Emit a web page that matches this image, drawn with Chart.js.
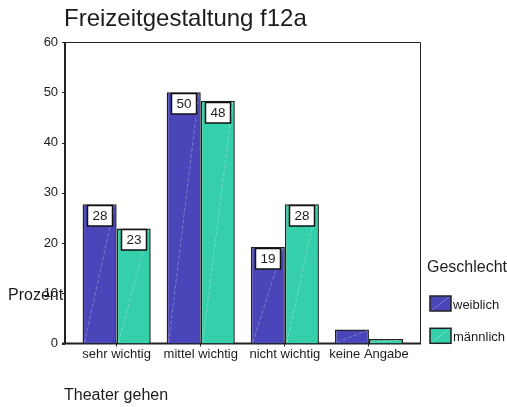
<!DOCTYPE html>
<html>
<head>
<meta charset="utf-8">
<script src="https://cdn.jsdelivr.net/npm/chart.js@4.4.1/dist/chart.umd.min.js"></script>
<style>
  body { margin: 0; background: #fff; }
</style>
</head>
<body>
<canvas id="freizeitChart" width="507" height="407"></canvas>
<script>
var categories = ["sehr wichtig", "mittel wichtig", "nicht wichtig", "keine Angabe"];
var weiblich = [27.7, 50.0, 19.2, 2.8];
var maennlich = [22.9, 48.3, 27.7, 0.9];
var yTicks = [0, 10, 20, 30, 40, 50, 60];

var FONT = "'Liberation Sans', Arial, sans-serif";
var INK = "#1c1c1c";

Chart.defaults.font.family = FONT;
Chart.defaults.color = INK;

// frame round the plot, y axis line and its tick marks
var framePlugin = {
  id: "frame",
  beforeDatasetsDraw: function (chart) {
    var ctx = chart.ctx;
    var a = chart.chartArea;
    var yScale = chart.scales.y;
    var left = a.left - 9.6;
    var right = a.right + 9;
    ctx.save();
    ctx.strokeStyle = "#222";
    ctx.lineWidth = 1;
    ctx.beginPath();
    ctx.moveTo(left - 3, a.top + 0.5);
    ctx.lineTo(right + 0.5, a.top + 0.5);
    ctx.lineTo(right + 0.5, a.bottom);
    ctx.stroke();
    ctx.lineWidth = 2;
    ctx.beginPath();
    ctx.moveTo(left, a.top);
    ctx.lineTo(left, a.bottom);
    ctx.moveTo(left - 3, a.bottom);
    ctx.lineTo(right + 1, a.bottom);
    ctx.stroke();
    ctx.lineWidth = 1;
    ctx.beginPath();
    yTicks.forEach(function (t) {
      var py = Math.round(yScale.getPixelForValue(t)) + 0.5;
      ctx.moveTo(left - 3, py);
      ctx.lineTo(left, py);
    });
    ctx.stroke();
    ctx.restore();
  }
};

// faint diagonal hatch in each bar and the white value boxes
var labelPlugin = {
  id: "valueBoxes",
  afterDatasetsDraw: function (chart) {
    var ctx = chart.ctx;
    ctx.save();
    chart.data.datasets.forEach(function (ds, di) {
      var meta = chart.getDatasetMeta(di);
      meta.data.forEach(function (bar) {
        var p = bar.getProps(["x", "y", "base", "width"], true);
        var l = p.x - p.width / 2;
        ctx.strokeStyle = "rgba(255,255,255,0.35)";
        ctx.lineWidth = 0.8;
        ctx.setLineDash([4, 2]);
        ctx.beginPath();
        ctx.moveTo(l + 2, p.base - 1);
        ctx.lineTo(l + p.width - 2, p.y + 1);
        ctx.stroke();
      });
    });
    ctx.setLineDash([]);
    chart.data.datasets.forEach(function (ds, di) {
      var meta = chart.getDatasetMeta(di);
      meta.data.forEach(function (bar, i) {
        var v = ds.data[i];
        if (v < 5) return;
        var p = bar.getProps(["x", "y"], true);
        var w = 25, h = 20.5;
        var bx = Math.round(p.x - w / 2) + 0.5;
        var by = Math.round(p.y + 1) + 0.5;
        ctx.fillStyle = "#fff";
        ctx.fillRect(bx, by, w, h);
        ctx.strokeStyle = "#111";
        ctx.lineWidth = 1.5;
        ctx.strokeRect(bx, by, w, h);
        ctx.fillStyle = INK;
        ctx.font = "13.5px " + FONT;
        ctx.textAlign = "center";
        ctx.textBaseline = "middle";
        ctx.fillText(String(Math.round(v)), bx + w / 2, by + h / 2 + 0.5);
      });
    });
    ctx.restore();
  }
};

// title, axis titles and the legend
var textPlugin = {
  id: "texts",
  afterDraw: function (chart) {
    var ctx = chart.ctx;
    ctx.save();
    ctx.fillStyle = INK;
    ctx.textAlign = "left";
    ctx.textBaseline = "alphabetic";
    ctx.font = "24px " + FONT;
    ctx.fillText("Freizeitgestaltung f12a", 64, 25.5);
    ctx.font = "16px " + FONT;
    ctx.fillText("Prozent", 8, 300);
    ctx.fillText("Theater gehen", 64, 400);
    ctx.fillText("Geschlecht", 427, 271.5);

    chart.data.datasets.forEach(function (ds, i) {
      var top = 296 + i * 32.3;
      ctx.fillStyle = ds.backgroundColor;
      ctx.fillRect(430, top, 21, 15);
      ctx.strokeStyle = "rgba(255,255,255,0.35)";
      ctx.lineWidth = 0.8;
      ctx.beginPath();
      ctx.moveTo(432, top + 14);
      ctx.lineTo(449, top + 1);
      ctx.stroke();
      ctx.strokeStyle = "#222";
      ctx.lineWidth = 1.5;
      ctx.strokeRect(430, top, 21, 15);
      ctx.fillStyle = INK;
      ctx.font = "13px " + FONT;
      ctx.fillText(ds.label, 453, top + 12.5);
    });
    ctx.restore();
  }
};

var chart = new Chart(document.getElementById("freizeitChart"), {
  type: "bar",
  data: {
    labels: categories,
    datasets: [{
      label: "weiblich",
      data: weiblich,
      backgroundColor: "#4a45b8",
      borderColor: "#222",
      borderWidth: 1.5
    }, {
      label: "männlich",
      data: maennlich,
      backgroundColor: "#35cfab",
      borderColor: "#222",
      borderWidth: 1.5
    }]
  },
  options: {
    responsive: false,
    animation: false,
    devicePixelRatio: 1,
    layout: {
      padding: { top: 42, right: 96, left: 0, bottom: 0 }
    },
    datasets: {
      bar: {
        categoryPercentage: 0.81,
        barPercentage: 1.0
      }
    },
    plugins: {
      legend: { display: false },
      title: { display: false },
      tooltip: { enabled: false }
    },
    scales: {
      x: {
        border: { display: false },
        grid: {
          offset: false,
          drawOnChartArea: false,
          drawTicks: true,
          tickLength: 3,
          color: "#222",
          lineWidth: 1
        },
        ticks: {
          padding: 0,
          maxRotation: 0,
          autoSkip: false,
          font: { size: 13 },
          color: INK
        },
        afterFit: function (scale) { scale.height = 63.5; }
      },
      y: {
        min: yTicks[0],
        max: yTicks[yTicks.length - 1],
        border: { display: false },
        grid: { display: false, drawTicks: false },
        ticks: {
          stepSize: yTicks[1] - yTicks[0],
          padding: 16.5,
          font: { size: 13 },
          color: INK
        },
        afterFit: function (scale) { scale.width = 74.6; }
      }
    }
  },
  plugins: [framePlugin, labelPlugin, textPlugin]
});
</script>
</body>
</html>
